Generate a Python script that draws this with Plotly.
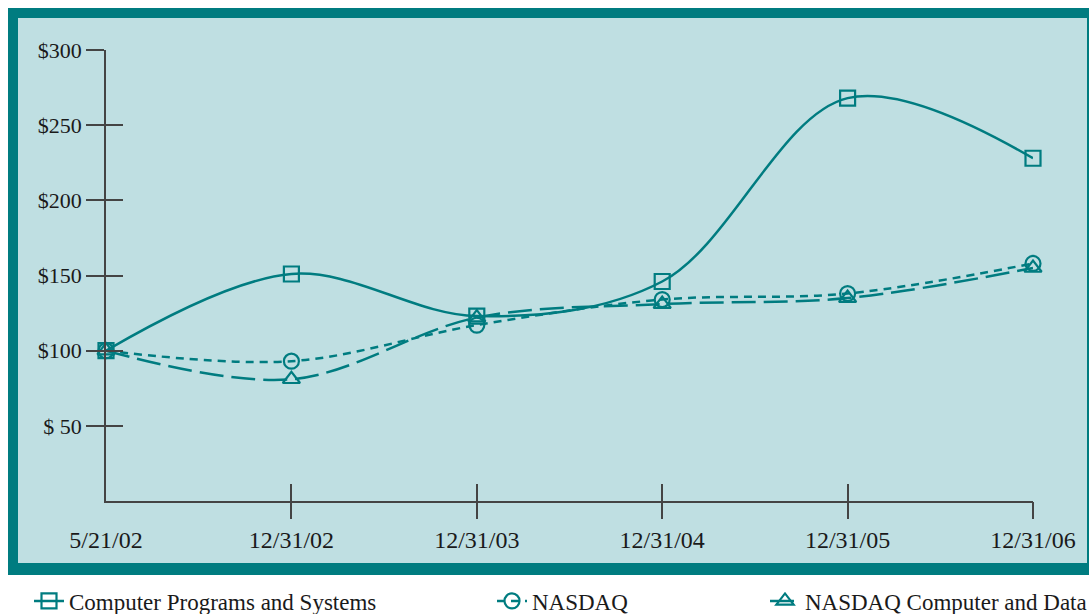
import plotly.graph_objects as go

categories = ["5/21/02", "12/31/02", "12/31/03", "12/31/04", "12/31/05", "12/31/06"]
cpsi = [100, 151, 123, 146, 268, 228]
nasdaq = [100, 93, 117, 134, 138, 158]
nasdaq_comp = [100, 81, 122, 131, 135, 155]
y_ticks = [50, 100, 150, 200, 250, 300]
y_tick_text = ["$ 50", "$100", "$150", "$200", "$250", "$300"]

TEAL = "#007c80"
LIGHT = "#bfdfe2"
INK = "#1a1a1a"
AX = "#444444"
SERIF = "Liberation Serif"

W, H = 1089, 614
L, R, T, B = 106, 56, 50, 113
pw, ph = W - L - R, H - T - B


def px_x(p):
    return (p - L) / pw


def px_y(p):
    return (H - B - p) / ph


xs = list(range(len(categories)))

fig = go.Figure()

series = [
    ("Computer Programs and Systems", cpsi, "solid", "square-open", "legend"),
    ("NASDAQ", nasdaq, "8px,6px", "circle-open", "legend2"),
    ("NASDAQ Computer and Data Processing", nasdaq_comp, "24px,8px", "triangle-up-open", "legend3"),
]
for name, vals, dash, sym, lg in series:
    fig.add_trace(go.Scatter(
        x=xs, y=vals, name=name, mode="lines+markers",
        line=dict(color=TEAL, width=2.5, dash=dash, shape="spline", smoothing=1),
        marker=dict(symbol=sym, size=15, color=TEAL, line=dict(color=TEAL, width=2.2)),
        cliponaxis=False, legend=lg, hoverinfo="skip",
    ))

# helper empty traces so overlay axes are drawn
fig.add_trace(go.Scatter(x=[], y=[], xaxis="x2", yaxis="y", showlegend=False))
fig.add_trace(go.Scatter(x=[], y=[], xaxis="x3", yaxis="y", showlegend=False))
fig.add_trace(go.Scatter(x=[], y=[], xaxis="x", yaxis="y2", showlegend=False))

ytickfont = dict(family=SERIF, size=22, color=INK)
xtickfont = dict(family=SERIF, size=24, color=INK)
legfont = dict(family=SERIF, size=23, color=INK)

fig.update_layout(
    width=W, height=H,
    showlegend=True,
    margin=dict(l=L, r=R, t=T, b=B, autoexpand=False),
    paper_bgcolor="white",
    plot_bgcolor="rgba(0,0,0,0)",
    xaxis=dict(range=[0, 5], tickvals=xs, ticktext=categories, ticks="outside",
               ticklen=16, tickcolor="rgba(0,0,0,0)", showline=True, linecolor=AX,
               linewidth=1.5, showgrid=False, zeroline=False, tickfont=xtickfont),
    xaxis2=dict(range=[0, 5], overlaying="x", anchor="y", tickvals=xs[1:], ticks="outside",
                ticklen=17, tickcolor=AX, tickwidth=1.5, showticklabels=False,
                showline=False, showgrid=False, zeroline=False),
    xaxis3=dict(range=[0, 5], overlaying="x", anchor="y", tickvals=xs[1:], ticks="inside",
                ticklen=17, tickcolor=AX, tickwidth=1.5, showticklabels=False,
                showline=False, showgrid=False, zeroline=False),
    yaxis=dict(range=[0, 300], tickvals=y_ticks, ticktext=y_tick_text, ticks="outside",
               ticklen=18, tickcolor=AX, tickwidth=1.5, showline=True, linecolor=AX,
               linewidth=1.5, showgrid=False, zeroline=False, tickfont=ytickfont),
    yaxis2=dict(range=[0, 300], overlaying="y", anchor="x", tickvals=y_ticks, ticks="inside",
                ticklen=17, tickcolor=AX, tickwidth=1.5, showticklabels=False,
                showline=False, showgrid=False, zeroline=False),
    legend=dict(orientation="h", x=px_x(29), y=px_y(601), xanchor="left", yanchor="middle",
                font=legfont, bgcolor="rgba(0,0,0,0)"),
    legend2=dict(orientation="h", x=px_x(492), y=px_y(601), xanchor="left", yanchor="middle",
                 font=legfont, bgcolor="rgba(0,0,0,0)"),
    legend3=dict(orientation="h", x=px_x(765), y=px_y(601), xanchor="left", yanchor="middle",
                 font=legfont, bgcolor="rgba(0,0,0,0)"),
    shapes=[
        dict(type="rect", xref="paper", yref="paper", layer="below",
             x0=px_x(8), x1=px_x(1110), y0=px_y(575), y1=px_y(8),
             fillcolor=TEAL, line=dict(width=0)),
        dict(type="rect", xref="paper", yref="paper", layer="below",
             x0=px_x(18), x1=px_x(1087), y0=px_y(563), y1=px_y(18),
             fillcolor=LIGHT, line=dict(width=0)),
    ],
)

fig.write_html("out.html")
